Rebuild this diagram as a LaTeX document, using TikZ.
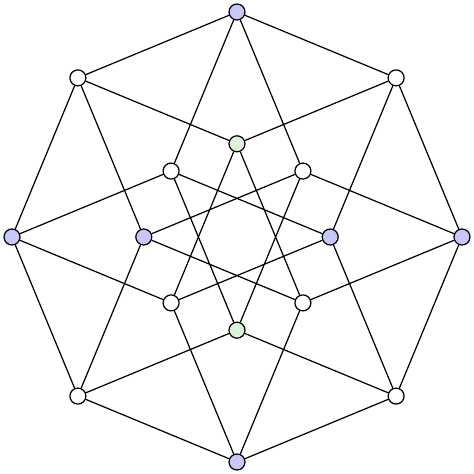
\documentclass[tikz,border=0pt]{standalone}
\definecolor{vblue}{RGB}{200,200,248}
\definecolor{vgreen}{RGB}{218,244,218}
\begin{document}
\begin{tikzpicture}
\useasboundingbox (-4.74,-4.74) rectangle (4.74,4.74);
\begin{scope}[every node/.style = {circle, draw, line width=0.7pt, fill=white, minimum size=0.32cm, inner sep=0pt}]
\node[fill=vblue] (pppp) at (0, 4.5) {};
\node (pppm) at (3.182, 3.182) {};
\node (ppmp) at (1.318, 1.318) {};
\node[fill=vblue] (ppmm) at (4.5, 0) {};
\node (pmpp) at (-1.318, 1.318) {};
\node[fill=vblue] (pmpm) at (1.864, 0) {};
\node[fill=vgreen] (pmmp) at (0, -1.864) {};
\node (pmmm) at (3.182, -3.182) {};
\node (mppp) at (-3.182, 3.182) {};
\node[fill=vgreen] (mppm) at (0, 1.864) {};
\node[fill=vblue] (mpmp) at (-1.864, 0) {};
\node (mpmm) at (1.318, -1.318) {};
\node[fill=vblue] (mmpp) at (-4.5, 0) {};
\node (mmpm) at (-1.318, -1.318) {};
\node (mmmp) at (-3.182, -3.182) {};
\node[fill=vblue] (mmmm) at (0, -4.5) {};
\end{scope}
\begin{scope}[every edge/.style = {draw, line width=0.7pt}]
\path (pppp) edge (mppp) edge (pmpp) edge (ppmp) edge (pppm);
\path (pppm) edge (mppm) edge (pmpm) edge (ppmm);
\path (ppmp) edge (mpmp) edge (pmmp) edge (ppmm);
\path (ppmm) edge (mpmm) edge (pmmm);
\path (pmpp) edge (mmpp) edge (pmmp) edge (pmpm);
\path (pmpm) edge (mmpm) edge (pmmm);
\path (pmmp) edge (mmmp) edge (pmmm);
\path (pmmm) edge (mmmm);
\path (mppp) edge (mmpp) edge (mpmp) edge (mppm);
\path (mppm) edge (mmpm) edge (mpmm);
\path (mpmp) edge (mmmp) edge (mpmm);
\path (mpmm) edge (mmmm);
\path (mmpp) edge (mmmp) edge (mmpm);
\path (mmpm) edge (mmmm);
\path (mmmp) edge (mmmm);
\end{scope}
\end{tikzpicture}
\end{document}
